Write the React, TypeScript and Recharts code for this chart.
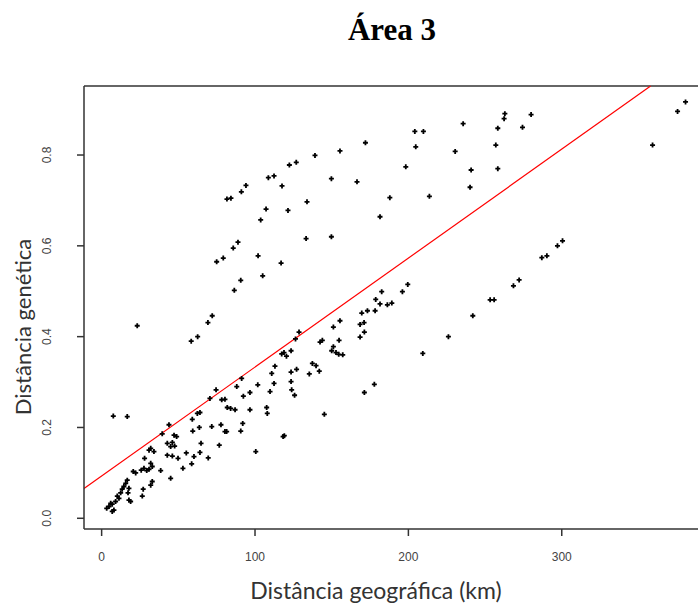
import React from "react";
import {
  ScatterChart,
  Scatter,
  XAxis,
  YAxis,
  ReferenceLine,
} from "recharts";

// geographic distance (km) and genetic distance
const geoKm = [
  108.7, 112.4, 117.6, 94.1, 91.1, 81.7, 84.3, 107.2, 121.5, 103.7,
  88.9, 85.8, 79.3, 75.0, 102.0, 117.0, 105.0, 90.7, 86.5, 122.4,
  126.9, 139.1, 155.4, 172.0, 204.2, 209.8, 235.7, 204.8, 230.5, 240.9,
  240.2, 198.3, 149.8, 166.5, 133.9, 187.9, 213.7, 181.5, 133.3, 149.8,
  262.9, 262.4, 280.0, 258.3, 274.4, 257.0, 258.3, 380.7, 375.5, 359.2,
  300.5, 297.2, 290.3, 287.0, 272.2, 268.5, 255.9, 253.3, 242.0, 226.1,
  209.4, 177.8, 171.3, 145.2,
  199.6, 196.1, 182.6, 178.7, 181.5, 186.3, 189.2, 178.3, 173.3, 169.6,
  168.5, 171.1, 171.3, 168.5, 155.4, 151.1, 154.8, 143.9, 142.4, 150.0,
  152.8, 154.6, 157.2, 151.1, 137.4, 139.8, 135.4, 141.9, 128.7, 126.4,
  118.9, 120.5, 123.5, 117.4, 123.5, 127.1, 123.5, 123.9, 125.8, 118.3,
  119.1,
  23.2, 58.4, 62.6, 72.1, 69.3, 113.0, 110.9, 112.4, 91.3, 88.1,
  101.8, 96.7, 92.4, 109.8, 74.6, 70.6, 78.3, 80.4,
  62.4, 64.1, 81.9, 84.1, 87.0, 96.7, 107.6, 108.0, 59.1, 63.7,
  59.4, 71.8, 77.8, 80.4, 81.5, 90.7, 92.0, 64.8, 76.7, 64.1,
  60.2, 58.7, 69.5, 100.5,
  7.6, 16.7, 43.9, 39.5, 47.2, 48.9, 42.8, 46.1, 45.0, 47.6,
  32.0, 34.1, 30.9, 42.8, 46.1, 49.8, 55.2, 28.0, 32.0, 33.0,
  30.9, 27.6, 29.4, 25.8, 38.5, 53.0, 22.2, 20.6, 45.0, 33.0,
  32.0, 16.7, 15.7, 14.5, 17.8, 13.4, 27.1, 17.2, 12.4, 10.2,
  11.3, 26.5, 17.8, 18.9, 9.1, 6.9, 5.9, 4.8, 3.3, 8.0,
  6.9,
];

const genDist = [
  0.750, 0.754, 0.732, 0.733, 0.719, 0.703, 0.705, 0.681, 0.678, 0.657,
  0.608, 0.595, 0.573, 0.565, 0.578, 0.562, 0.534, 0.524, 0.502, 0.778,
  0.784, 0.799, 0.809, 0.827, 0.852, 0.852, 0.869, 0.818, 0.808, 0.767,
  0.729, 0.774, 0.748, 0.741, 0.697, 0.706, 0.709, 0.664, 0.616, 0.620,
  0.891, 0.880, 0.889, 0.859, 0.861, 0.822, 0.770, 0.917, 0.896, 0.822,
  0.611, 0.600, 0.578, 0.574, 0.525, 0.512, 0.481, 0.481, 0.446, 0.400,
  0.363, 0.295, 0.277, 0.229,
  0.515, 0.499, 0.499, 0.482, 0.472, 0.470, 0.474, 0.457, 0.457, 0.452,
  0.427, 0.431, 0.410, 0.399, 0.435, 0.421, 0.392, 0.392, 0.388, 0.369,
  0.365, 0.361, 0.360, 0.378, 0.341, 0.336, 0.318, 0.324, 0.410, 0.395,
  0.365, 0.357, 0.369, 0.362, 0.322, 0.328, 0.301, 0.283, 0.271, 0.180,
  0.182,
  0.424, 0.390, 0.400, 0.446, 0.431, 0.335, 0.319, 0.297, 0.308, 0.290,
  0.294, 0.277, 0.269, 0.279, 0.283, 0.264, 0.261, 0.262,
  0.231, 0.233, 0.244, 0.242, 0.239, 0.239, 0.244, 0.231, 0.218, 0.200,
  0.192, 0.202, 0.206, 0.191, 0.191, 0.192, 0.209, 0.165, 0.161, 0.145,
  0.136, 0.120, 0.133, 0.147,
  0.225, 0.224, 0.206, 0.186, 0.183, 0.180, 0.165, 0.167, 0.158, 0.159,
  0.154, 0.147, 0.150, 0.139, 0.137, 0.132, 0.144, 0.132, 0.121, 0.114,
  0.108, 0.110, 0.105, 0.106, 0.105, 0.110, 0.100, 0.103, 0.088, 0.081,
  0.073, 0.084, 0.077, 0.070, 0.066, 0.064, 0.064, 0.056, 0.056, 0.049,
  0.044, 0.049, 0.040, 0.037, 0.037, 0.031, 0.033, 0.026, 0.022, 0.018,
  0.015,
];

const xTicks = [0, 100, 200, 300];
const yTicks = [0, 0.2, 0.4, 0.6, 0.8];

// fitted line
const INTERCEPT = 0.093;
const SLOPE = 0.0024;

const X_MIN = -11.5;
const X_MAX = 396;
const Y_MIN = -0.0236;
const Y_MAX = 0.952;

const points = geoKm.map((x, i) => ({ x, y: genDist[i] }));

const tickFont = "'Liberation Sans', Arial, sans-serif";
const labelFont = "Lato, 'Open Sans', sans-serif";

function Plus(props: any) {
  const { cx, cy } = props;
  if (cx == null || cy == null) return null;
  return (
    <path
      d={`M${cx - 2.5},${cy}h5M${cx},${cy - 2.5}v5`}
      stroke="#000"
      strokeWidth={1.8}
      fill="none"
    />
  );
}

function YTick(props: any) {
  const { x, y, payload } = props;
  return (
    <text
      x={x}
      y={y}
      transform={`rotate(-90 ${x} ${y})`}
      textAnchor="middle"
      fontSize={12}
      fill="#444"
      fontFamily={tickFont}
    >
      {Number(payload.value).toFixed(1)}
    </text>
  );
}

export default function App() {
  const xTop = (Y_MAX - INTERCEPT) / SLOPE;
  return (
    <div
      style={{
        position: "absolute",
        left: 0,
        top: 0,
        width: 698,
        height: 607,
        overflow: "hidden",
        background: "#fff",
      }}
    >
      <div
        style={{
          position: "absolute",
          left: 392,
          top: 30,
          transform: "translate(-50%, -50%)",
          fontFamily: "'Liberation Serif', 'Times New Roman', serif",
          fontWeight: "bold",
          fontSize: 31,
          color: "#000",
          whiteSpace: "nowrap",
        }}
      >
        Área 3
      </div>

      <ScatterChart
        width={720}
        height={607}
        margin={{ top: 86, right: 11, bottom: 38, left: 0 }}
      >
        <XAxis
          type="number"
          dataKey="x"
          domain={[X_MIN, X_MAX]}
          allowDataOverflow
          ticks={xTicks}
          tickSize={7}
          tickMargin={16}
          height={40}
          stroke="#333"
          strokeWidth={1.5}
          tick={{ fontSize: 12, fill: "#444", fontFamily: tickFont }}
        />
        <YAxis
          type="number"
          dataKey="y"
          domain={[Y_MIN, Y_MAX]}
          allowDataOverflow
          ticks={yTicks}
          tickSize={7}
          tickMargin={26}
          width={84}
          stroke="#333"
          strokeWidth={1.5}
          tick={<YTick />}
        />
        <ReferenceLine y={Y_MAX} stroke="#333" strokeWidth={1.5} />
        <ReferenceLine
          segment={[
            { x: X_MIN, y: INTERCEPT + SLOPE * X_MIN },
            { x: xTop, y: Y_MAX },
          ]}
          stroke="#ff0000"
          strokeWidth={1.2}
        />
        <Scatter data={points} shape={<Plus />} isAnimationActive={false} />
      </ScatterChart>

      <div
        style={{
          position: "absolute",
          left: 376,
          top: 590,
          transform: "translate(-50%, -50%)",
          fontFamily: labelFont,
          fontSize: 23,
          color: "#333",
          whiteSpace: "nowrap",
        }}
      >
        Distância geográfica (km)
      </div>
      <div
        style={{
          position: "absolute",
          left: 22,
          top: 327,
          transform: "translate(-50%, -50%) rotate(-90deg)",
          fontFamily: labelFont,
          fontSize: 22,
          color: "#333",
          whiteSpace: "nowrap",
        }}
      >
        Distância genética
      </div>
    </div>
  );
}
